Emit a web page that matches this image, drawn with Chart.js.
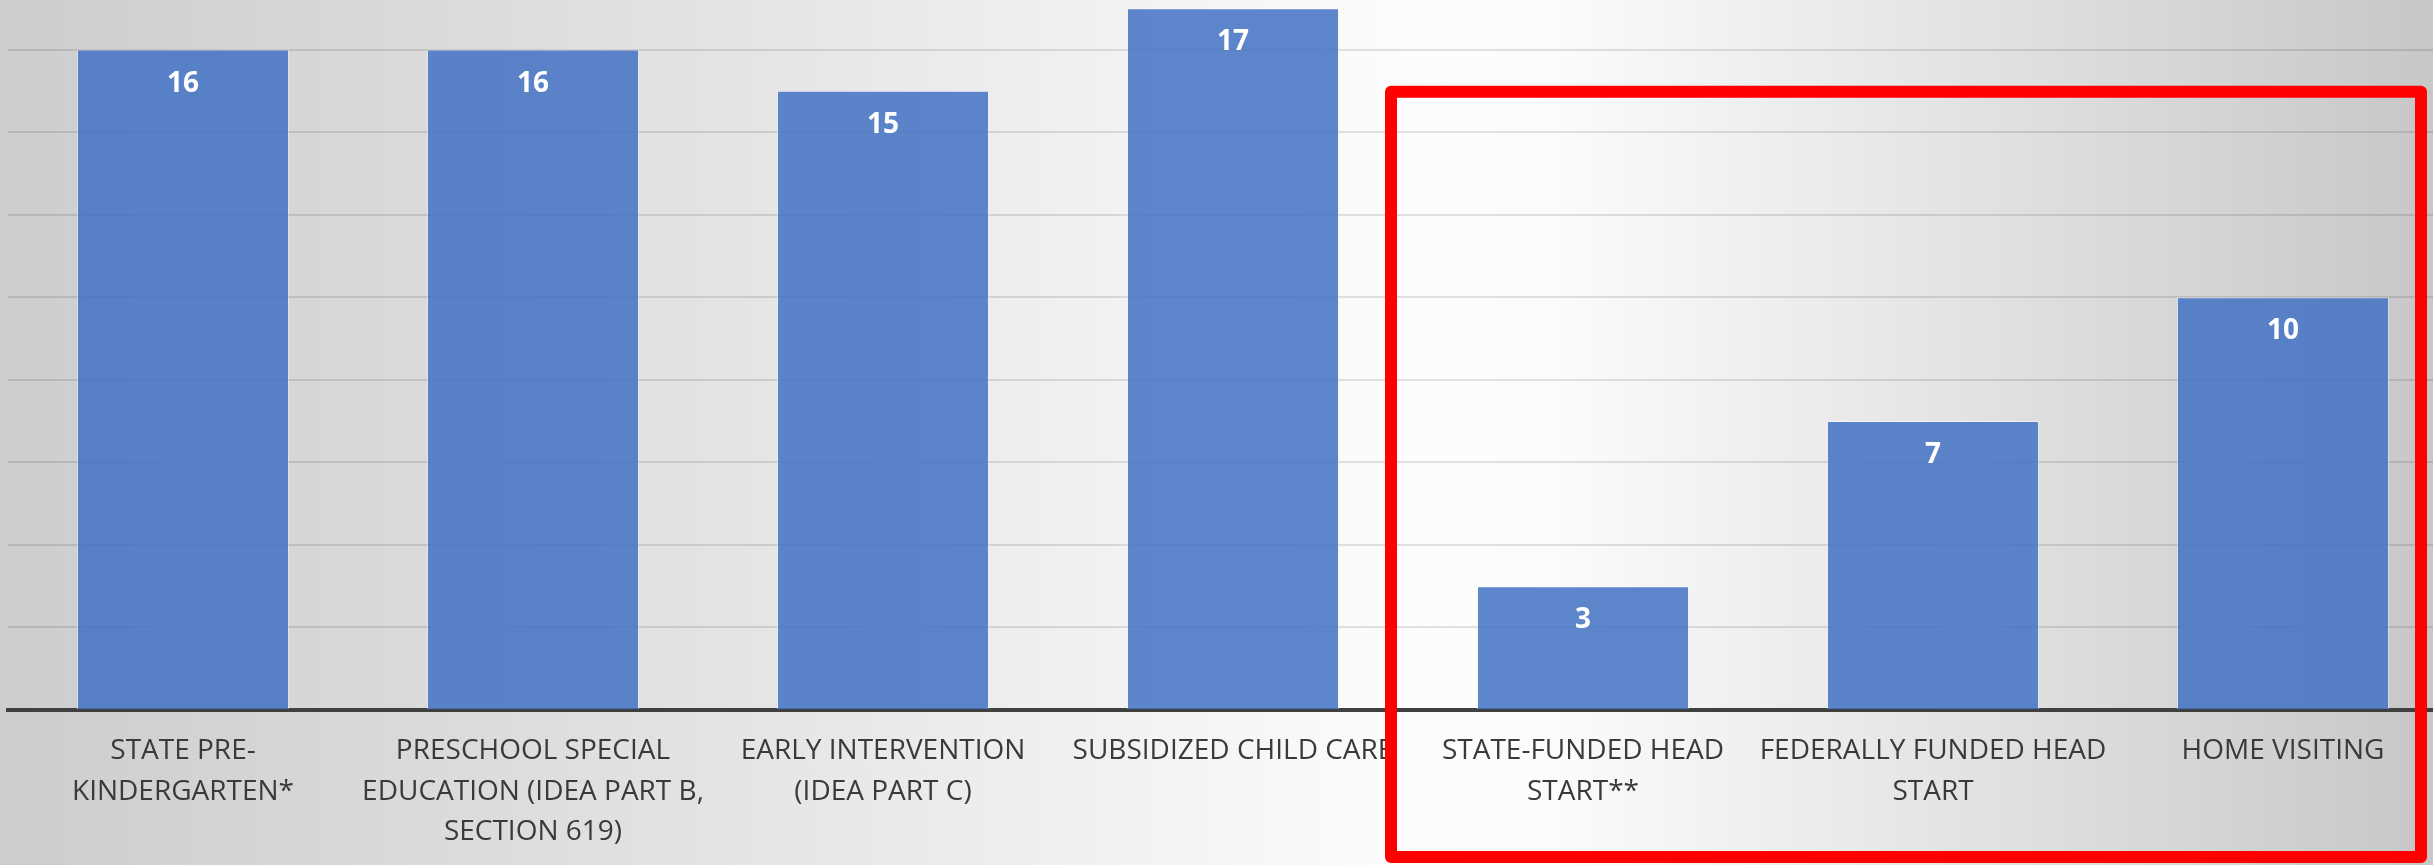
<!DOCTYPE html>
<html>
<head>
<meta charset="utf-8">
<script src="https://cdn.jsdelivr.net/npm/chart.js@4"></script>
<style>
  html, body { margin: 0; padding: 0; overflow: hidden; }
  body {
    width: 2433px; height: 865px; position: relative;
    background: linear-gradient(90deg, #cdcdcd 0px, #e3e3e3 700px, #fdfdfd 1430px, #fbfbfb 1560px, #c7c7c7 2433px);
  }
  #wrap { position: absolute; left: 0; top: -33px; width: 2458px; height: 898px; }
</style>
</head>
<body>
<div id="wrap"><canvas id="programChart"></canvas></div>
<script>
  // categories (one array entry per line of the axis label)
  const programs = [
    ['STATE PRE-', 'KINDERGARTEN*'],
    ['PRESCHOOL SPECIAL', 'EDUCATION (IDEA PART B,', 'SECTION 619)'],
    ['EARLY INTERVENTION', '(IDEA PART C)'],
    ['SUBSIDIZED CHILD CARE'],
    ['STATE-FUNDED HEAD', 'START**'],
    ['FEDERALLY FUNDED HEAD', 'START'],
    ['HOME VISITING']
  ];
  const stateCounts = [16, 16, 15, 17, 3, 7, 10];
  const yMax = 18;
  const yStep = 2;

  // white numbers inside the top of each bar
  const valueLabels = {
    id: 'valueLabels',
    afterDatasetsDraw(chart) {
      const { ctx } = chart;
      const meta = chart.getDatasetMeta(0);
      ctx.save();
      ctx.fillStyle = '#ffffff';
      ctx.font = 'bold 28px "Open Sans"';
      ctx.textAlign = 'center';
      ctx.textBaseline = 'middle';
      meta.data.forEach((bar, i) => {
        ctx.fillText(stateCounts[i], bar.x, bar.y + 34);
      });
      ctx.restore();
    }
  };

  // red highlight box around the last three programs
  const highlightBox = {
    id: 'highlightBox',
    afterDraw(chart) {
      const { ctx } = chart;
      const x = chart.scales.x;
      const y = chart.scales.y;
      const left = (x.getPixelForValue(3) + x.getPixelForValue(4)) / 2 - 17;
      const top = y.getPixelForValue(15) + 1;
      const right = 2421;
      const bottom = chart.height - 8;
      ctx.save();
      ctx.strokeStyle = '#ff0000';
      ctx.lineWidth = 12;
      ctx.lineJoin = 'round';
      ctx.strokeRect(left, top, right - left, bottom - top);
      ctx.restore();
    }
  };

  const ctx = document.getElementById('programChart').getContext('2d');
  const programChart = new Chart(ctx, {
    type: 'bar',
    data: {
      labels: programs,
      datasets: [{
        data: stateCounts,
        backgroundColor: 'rgba(68, 114, 196, 0.86)',
        borderColor: 'rgba(255, 255, 255, 0.45)',
        borderWidth: 1,
        barPercentage: 0.606,
        categoryPercentage: 1
      }]
    },
    options: {
      responsive: true,
      maintainAspectRatio: false,
      animation: false,
      layout: { padding: { left: 8, right: 0, top: 0, bottom: 0 } },
      plugins: {
        legend: { display: false },
        tooltip: { enabled: false }
      },
      scales: {
        x: {
          z: 1,
          grid: { display: false, drawTicks: false },
          border: { display: true, color: '#404040', width: 4 },
          ticks: {
            color: '#3a3a3a',
            font: { family: '"Open Sans"', size: 28, lineHeight: 1.45 },
            padding: 21,
            maxRotation: 0,
            autoSkip: false
          },
          afterFit: s => { s.height = 155; }
        },
        y: {
          min: 0,
          max: yMax,
          ticks: { display: false, stepSize: yStep },
          border: { display: false },
          grid: { color: 'rgba(0, 0, 0, 0.11)', lineWidth: 2, drawTicks: false },
          afterFit: s => { s.width = 0; }
        }
      }
    },
    plugins: [valueLabels, highlightBox]
  });
</script>
</body>
</html>
